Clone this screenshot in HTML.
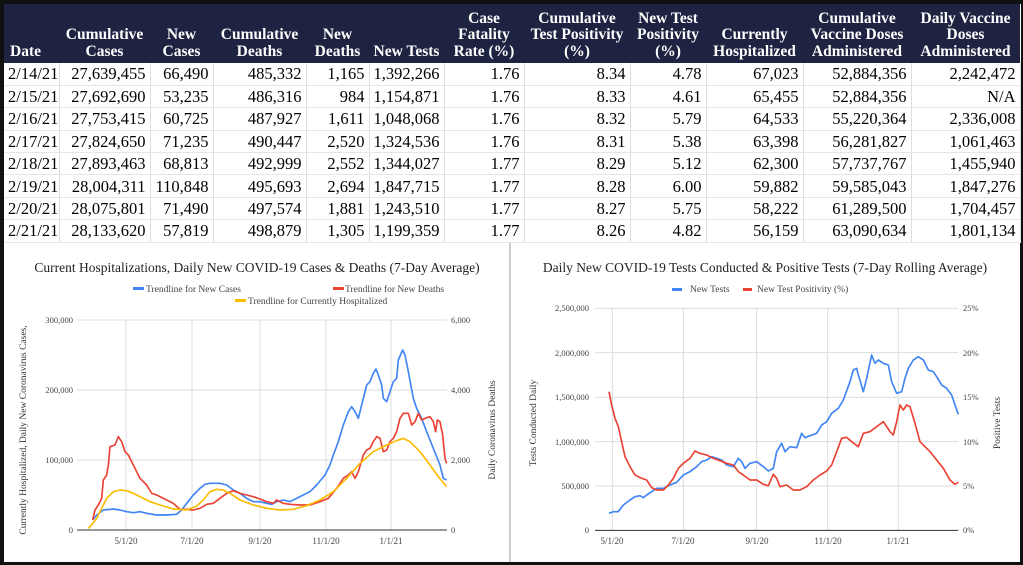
<!DOCTYPE html>
<html><head><meta charset="utf-8"><style>
html,body{margin:0;padding:0;}
body{width:1023px;height:565px;background:#111;position:relative;overflow:hidden;font-family:"Liberation Serif",serif;}
#tbl{position:absolute;left:4px;top:4px;width:1016px;border-collapse:collapse;table-layout:fixed;background:#fff;}
#tbl th{background:#1e2341;color:#fff;font-weight:bold;font-size:15.5px;line-height:16.5px;height:59px;vertical-align:bottom;padding:0 1px 3px;text-align:center;box-sizing:border-box;}
#tbl td{font-size:16.5px;height:22.4px;line-height:21px;padding:0 4px 0 0;text-align:right;border-right:1px solid #ddd;border-bottom:1px solid #e6e6e6;box-sizing:border-box;white-space:nowrap;overflow:hidden;}
#tbl td:first-child{text-align:left;padding-left:4px;}
#charts{position:absolute;left:4px;top:243px;width:1016px;height:319px;background:#fff;}
svg text{font-family:"Liberation Serif",serif;}
</style></head><body>
<table id="tbl">
<colgroup><col style="width:55px"><col style="width:91px"><col style="width:63px"><col style="width:93px"><col style="width:63px"><col style="width:75px"><col style="width:80px"><col style="width:106px"><col style="width:76px"><col style="width:97px"><col style="width:108px"><col style="width:109px"></colgroup>
<tr><th style="text-align:left;padding-left:6px">Date</th><th>Cumulative Cases</th><th>New Cases</th><th>Cumulative Deaths</th><th>New Deaths</th><th>New Tests</th><th>Case Fatality Rate (%)</th><th>Cumulative Test Positivity (%)</th><th>New Test Positivity (%)</th><th>Currently Hospitalized</th><th>Cumulative Vaccine Doses Administered</th><th>Daily Vaccine Doses Administered</th></tr>
<tr><td>2/14/21</td><td>27,639,455</td><td>66,490</td><td>485,332</td><td>1,165</td><td>1,392,266</td><td>1.76</td><td>8.34</td><td>4.78</td><td>67,023</td><td>52,884,356</td><td>2,242,472</td></tr>
<tr><td>2/15/21</td><td>27,692,690</td><td>53,235</td><td>486,316</td><td>984</td><td>1,154,871</td><td>1.76</td><td>8.33</td><td>4.61</td><td>65,455</td><td>52,884,356</td><td>N/A</td></tr>
<tr><td>2/16/21</td><td>27,753,415</td><td>60,725</td><td>487,927</td><td>1,611</td><td>1,048,068</td><td>1.76</td><td>8.32</td><td>5.79</td><td>64,533</td><td>55,220,364</td><td>2,336,008</td></tr>
<tr><td>2/17/21</td><td>27,824,650</td><td>71,235</td><td>490,447</td><td>2,520</td><td>1,324,536</td><td>1.76</td><td>8.31</td><td>5.38</td><td>63,398</td><td>56,281,827</td><td>1,061,463</td></tr>
<tr><td>2/18/21</td><td>27,893,463</td><td>68,813</td><td>492,999</td><td>2,552</td><td>1,344,027</td><td>1.77</td><td>8.29</td><td>5.12</td><td>62,300</td><td>57,737,767</td><td>1,455,940</td></tr>
<tr><td>2/19/21</td><td>28,004,311</td><td>110,848</td><td>495,693</td><td>2,694</td><td>1,847,715</td><td>1.77</td><td>8.28</td><td>6.00</td><td>59,882</td><td>59,585,043</td><td>1,847,276</td></tr>
<tr><td>2/20/21</td><td>28,075,801</td><td>71,490</td><td>497,574</td><td>1,881</td><td>1,243,510</td><td>1.77</td><td>8.27</td><td>5.75</td><td>58,222</td><td>61,289,500</td><td>1,704,457</td></tr>
<tr><td>2/21/21</td><td>28,133,620</td><td>57,819</td><td>498,879</td><td>1,305</td><td>1,199,359</td><td>1.77</td><td>8.26</td><td>4.82</td><td>56,159</td><td>63,090,634</td><td>1,801,134</td></tr>
</table>
<div id="charts"></div>
<svg style="position:absolute;left:0;top:0" width="1023" height="565" viewBox="0 0 1023 565">
<line x1="510" y1="243" x2="510" y2="562" stroke="#bbb" stroke-width="1.5"/>
<text x="257" y="272" font-size="13.5" text-anchor="middle" fill="#222">Current Hospitalizations, Daily New COVID-19 Cases &amp; Deaths (7-Day Average)</text>
<rect x="133" y="287" width="11" height="3" fill="#4285f4"/><text x="146" y="292" font-size="9.5" fill="#444">Trendline for New Cases</text>
<rect x="333" y="287" width="11" height="3" fill="#ea4335"/><text x="345" y="292" font-size="9.5" fill="#444">Trendline for New Deaths</text>
<rect x="235" y="299" width="11" height="3" fill="#fbbc04"/><text x="248" y="304" font-size="9.5" fill="#444">Trendline for Currently Hospitalized</text>
<g stroke="#ddd" stroke-width="1">
<line x1="77" y1="320" x2="447" y2="320"/><line x1="77" y1="390" x2="447" y2="390"/><line x1="77" y1="460" x2="447" y2="460"/>
<line x1="126" y1="320" x2="126" y2="530"/><line x1="192" y1="320" x2="192" y2="530"/><line x1="260" y1="320" x2="260" y2="530"/><line x1="326" y1="320" x2="326" y2="530"/><line x1="391" y1="320" x2="391" y2="530"/>
</g>
<line x1="77" y1="530" x2="447" y2="530" stroke="#333" stroke-width="1"/>
<g font-size="8.5" fill="#444" text-anchor="end">
<text x="73" y="323">300,000</text><text x="73" y="393">200,000</text><text x="73" y="463">100,000</text><text x="73" y="533">0</text></g>
<g font-size="8.5" fill="#444">
<text x="451" y="323">6,000</text><text x="451" y="393">4,000</text><text x="451" y="463">2,000</text><text x="451" y="533">0</text></g>
<g font-size="9" fill="#444" text-anchor="middle">
<text x="126" y="544">5/1/20</text><text x="192" y="544">7/1/20</text><text x="260" y="544">9/1/20</text><text x="326" y="544">11/1/20</text><text x="391" y="544">1/1/21</text></g>
<text transform="translate(26,430) rotate(-90)" font-size="9.5" fill="#333" text-anchor="middle">Currently Hospitalized, Daily New Coronavirus Cases,</text>
<text transform="translate(495,430) rotate(-90)" font-size="9.5" fill="#333" text-anchor="middle">Daily Coronavirus Deaths</text>
<g transform="translate(0,245) scale(0.33333)" fill="none" stroke-width="5" stroke-linejoin="round">
<polyline stroke="#4285f4" points="278,825 290,810 310,795 340,792 360,795 380,800 400,803 420,800 440,805 470,810 500,810 530,808 545,795 560,775 580,750 600,730 615,718 630,715 660,715 680,720 700,735 720,745 740,760 760,770 780,770 800,775 815,778 830,770 850,765 870,770 900,755 930,740 950,720 975,690 990,660 1000,630 1015,590 1030,540 1045,500 1055,485 1065,500 1075,520 1085,480 1100,420 1110,410 1120,385 1128,372 1135,390 1145,420 1150,460 1160,470 1170,440 1180,410 1190,400 1195,345 1208,315 1215,330 1225,380 1240,460 1250,490 1265,520 1280,560 1300,610 1320,660 1330,700 1340,705"/>
<polyline stroke="#ea4335" points="278,825 285,795 295,780 305,760 310,705 320,690 325,660 330,605 345,600 355,575 365,590 375,620 385,630 395,650 405,670 420,700 440,720 455,745 470,750 480,755 500,765 520,775 540,793 560,793 580,795 600,790 620,778 640,775 660,760 680,745 700,737 720,745 740,750 760,755 780,762 800,770 820,775 830,765 850,775 870,778 900,780 930,780 960,770 985,760 1010,730 1030,700 1045,690 1055,680 1065,700 1075,680 1090,630 1100,615 1110,610 1120,590 1130,575 1140,580 1150,620 1160,615 1170,590 1180,580 1190,560 1200,520 1210,505 1225,505 1235,540 1245,530 1255,505 1265,525 1275,520 1290,515 1300,530 1307,560 1312,525 1320,530 1328,570 1335,640 1340,655"/>
<polyline stroke="#fbbc04" points="265,850 275,840 290,820 305,790 320,760 340,740 360,735 380,737 400,745 420,755 450,770 480,780 520,792 560,795 590,783 610,765 630,740 650,733 670,735 690,745 720,765 760,780 800,790 840,795 880,793 920,782 960,765 1000,740 1040,700 1080,655 1120,620 1160,600 1190,587 1210,580 1230,590 1260,620 1290,660 1315,695 1340,725"/>
</g>
<text x="765" y="272" font-size="13.5" text-anchor="middle" fill="#222">Daily New COVID-19 Tests Conducted &amp; Positive Tests (7-Day Rolling Average)</text>
<rect x="672" y="288" width="10" height="3" fill="#4285f4"/><text x="690" y="292" font-size="9.5" fill="#444">New Tests</text>
<rect x="743" y="288" width="9" height="3" fill="#ea4335"/><text x="757" y="292" font-size="9.5" fill="#444">New Test Positivity (%)</text>
<g transform="translate(510,245) scale(0.33333)">
<g stroke="#ddd" stroke-width="3">
<line x1="255" y1="190" x2="1345" y2="190"/><line x1="255" y1="323" x2="1345" y2="323"/><line x1="255" y1="457" x2="1345" y2="457"/><line x1="255" y1="590" x2="1345" y2="590"/><line x1="255" y1="723" x2="1345" y2="723"/>
<line x1="307" y1="190" x2="307" y2="856"/><line x1="520" y1="190" x2="520" y2="856"/><line x1="740" y1="190" x2="740" y2="856"/><line x1="953" y1="190" x2="953" y2="856"/><line x1="1165" y1="190" x2="1165" y2="856"/>
</g>
<line x1="255" y1="856" x2="1345" y2="856" stroke="#333" stroke-width="3"/>
<g fill="none" stroke-width="5" stroke-linejoin="round">
<polyline stroke="#4285f4" points="297,805 310,800 325,800 340,780 360,765 375,755 390,752 400,758 410,750 425,740 440,730 460,730 480,720 500,712 520,690 540,680 560,665 575,650 590,645 605,635 620,640 635,645 650,660 670,665 685,640 695,650 705,670 720,655 740,650 760,665 775,678 790,670 800,620 815,595 825,620 840,605 860,608 875,565 885,578 900,572 920,565 935,540 950,530 965,505 985,490 1000,465 1020,410 1030,375 1040,370 1045,390 1060,440 1070,400 1085,330 1095,355 1105,345 1120,355 1135,360 1145,410 1160,445 1175,440 1185,400 1195,370 1210,345 1225,335 1240,345 1255,375 1270,380 1280,395 1295,420 1310,430 1325,450 1335,480 1345,508"/>
<polyline stroke="#ea4335" points="297,440 305,480 315,520 325,545 335,590 345,635 360,665 375,690 395,700 410,705 425,728 440,735 460,735 475,720 490,700 505,670 520,655 540,640 555,618 570,625 590,630 610,640 630,647 650,655 670,660 685,680 700,690 720,705 740,705 760,718 775,722 790,688 800,700 810,725 830,720 850,735 870,735 890,725 910,705 930,690 950,678 965,660 980,620 995,580 1010,577 1025,590 1045,605 1060,565 1080,560 1100,545 1120,530 1140,560 1150,570 1160,530 1170,480 1180,495 1190,480 1200,485 1215,535 1230,590 1245,605 1260,620 1280,645 1300,670 1320,705 1335,718 1345,712"/>
</g>
</g>
<g font-size="8.5" fill="#444" text-anchor="end">
<text x="589" y="311">2,500,000</text><text x="589" y="356">2,000,000</text><text x="589" y="400">1,500,000</text><text x="589" y="445">1,000,000</text><text x="589" y="489">500,000</text><text x="589" y="533">0</text></g>
<g font-size="8.5" fill="#444">
<text x="963" y="311">25%</text><text x="963" y="356">20%</text><text x="963" y="400">15%</text><text x="963" y="445">10%</text><text x="963" y="489">5%</text><text x="963" y="533">0%</text></g>
<g font-size="9" fill="#444" text-anchor="middle">
<text x="612" y="544">5/1/20</text><text x="683" y="544">7/1/20</text><text x="757" y="544">9/1/20</text><text x="828" y="544">11/1/20</text><text x="898" y="544">1/1/21</text></g>
<text transform="translate(536,423) rotate(-90)" font-size="9.5" fill="#333" text-anchor="middle">Tests Conducted Daily</text>
<text transform="translate(1000,423) rotate(-90)" font-size="9.5" fill="#333" text-anchor="middle">Positive Tests</text>
</svg>
</body></html>
